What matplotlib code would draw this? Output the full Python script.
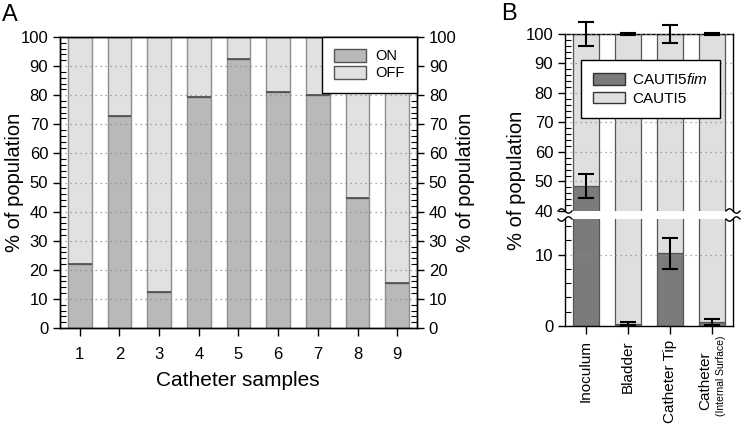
import numpy as np
import matplotlib
matplotlib.use('Agg')  # sin pantalla
import matplotlib.pyplot as plt
from matplotlib.patches import Patch
from matplotlib.ticker import MultipleLocator

plt.rcParams['font.family'] = ['Liberation Sans', 'DejaVu Sans']
plt.rcParams['mathtext.fontset'] = 'custom'
plt.rcParams['mathtext.rm'] = 'Liberation Sans'
plt.rcParams['mathtext.it'] = 'Liberation Sans:italic'

# --- datos panel A ---
muestras = ['1', '2', '3', '4', '5', '6', '7', '8', '9']
on_pct = [22.0, 72.7, 12.2, 79.5, 92.5, 81.0, 80.2, 44.8, 15.3]
off_pct = [100 - v for v in on_pct]

# --- datos panel B ---
sitios = ['Inoculum', 'Bladder', 'Catheter Tip', 'Catheter']
fim_pct = [48.5, 0.3, 10.2, 0.6]
fim_err = [4.0, 0.2, 2.2, 0.4]
cauti_pct = [100 - v for v in fim_pct]
cauti_err = [4.0, 0.3, 3.0, 0.5]

C_ON = '#b9b9b9'
C_OFF = '#e1e1e1'
C_FIM = '#7b7b7b'
C_CAUTI = '#dfdfdf'
GRID = dict(linestyle=(0, (1, 3)), color='#8c8c8c', linewidth=0.9)

W, H = 742, 426
fig = plt.figure(figsize=(W / 100, H / 100), dpi=100)


def caja(x0, y0, x1, y1):
    # pixeles (origen arriba-izq) -> fraccion de figura
    return [x0 / W, 1 - y1 / H, (x1 - x0) / W, (y1 - y0) / H]


def estilo_y(ax):
    ax.yaxis.set_minor_locator(MultipleLocator(2))
    ax.tick_params(axis='y', which='major', direction='out', length=5, width=1, labelsize=12)
    ax.tick_params(axis='y', which='minor', direction='in', length=4, width=0.8)
    for s in ax.spines.values():
        s.set_linewidth(1)


# ================= Panel A =================
ax = fig.add_axes(caja(60, 37, 417, 328))
x = np.arange(1, len(muestras) + 1)
ax.bar(x, on_pct, width=0.6, color=C_ON, edgecolor='#8e8e8e', linewidth=1)
ax.bar(x, off_pct, width=0.6, bottom=on_pct, color=C_OFF, edgecolor='#8e8e8e', linewidth=1)
ax.hlines(on_pct, x - 0.3, x + 0.3, color='#4a4a4a', linewidth=1.2, zorder=3)
ax.set_xlim(0.5, 9.5)
ax.set_ylim(0, 100)
ax.set_yticks(range(0, 101, 10))
ax.set_xticks(x)
ax.set_xticklabels(muestras)
ax.tick_params(axis='x', direction='out', length=6, width=1, labelsize=12, pad=8)
estilo_y(ax)
ax.yaxis.grid(True, **GRID)
ax.set_axisbelow(False)

ax2 = ax.twinx()
ax2.set_ylim(0, 100)
ax2.set_yticks(range(0, 101, 10))
estilo_y(ax2)

leg = ax2.legend(handles=[Patch(facecolor=C_ON, edgecolor='#555555', label='ON'),
                          Patch(facecolor=C_OFF, edgecolor='#555555', label='OFF')],
                 loc='upper right', bbox_to_anchor=(1, 1), borderaxespad=0,
                 fontsize=10.5, handlelength=2.2, handleheight=0.9,
                 fancybox=False, framealpha=1, edgecolor='black',
                 borderpad=0.85, labelspacing=0.2, handletextpad=0.6)
leg.get_frame().set_linewidth(1)

fig.text(15 / W, 1 - 182 / H, '% of population', rotation=90, ha='center', va='center', fontsize=14.5)
fig.text(466 / W, 1 - 182 / H, '% of population', rotation=90, ha='center', va='center', fontsize=14.5)
fig.text(238 / W, 1 - 380 / H, 'Catheter samples', ha='center', va='center', fontsize=15)
fig.text(2 / W, 1 - 4 / H, 'A', ha='left', va='top', fontsize=17)

# ================= Panel B =================
axu = fig.add_axes(caja(565, 34, 733, 211))
axl = fig.add_axes(caja(565, 219, 733, 326))
xb = np.arange(len(sitios))

for a in (axu, axl):
    a.bar(xb, fim_pct, width=0.6, color=C_FIM, edgecolor='#555555', linewidth=0.9)
    a.bar(xb, cauti_pct, width=0.6, bottom=fim_pct, color=C_CAUTI, edgecolor='#555555', linewidth=0.9)
    a.set_xlim(-0.5, 3.5)
    estilo_y(a)
    a.yaxis.grid(True, **GRID)
    a.set_axisbelow(False)
    a.errorbar(xb, fim_pct, yerr=fim_err, fmt='none', ecolor='black',
               elinewidth=1.5, capsize=5.5, capthick=1.5, zorder=4)

axu.errorbar(xb, [100] * len(xb), yerr=cauti_err, fmt='none', ecolor='black',
             elinewidth=1.5, capsize=5.5, capthick=1.5, clip_on=False, zorder=4)

axu.set_ylim(40, 100)
axu.set_yticks(range(40, 101, 10))
axu.spines['bottom'].set_visible(False)
axu.tick_params(axis='x', bottom=False, labelbottom=False)

axl.set_ylim(0, 15)
axl.set_yticks([0, 10])
axl.spines['top'].set_visible(False)
axl.set_xticks(xb)
axl.set_xticklabels(sitios[:3] + [''], rotation=90, fontsize=11)
axl.tick_params(axis='x', direction='out', length=6, width=1, pad=4)

# etiqueta de dos lineas para el ultimo sitio
axl.annotate(sitios[3], xy=(xb[3], 0), xycoords=('data', 'axes fraction'),
             xytext=(-7, -55), textcoords='offset pixels', rotation=90,
             ha='center', va='center', fontsize=11)
axl.annotate('(Internal Surface)', xy=(xb[3], 0), xycoords=('data', 'axes fraction'),
             xytext=(9, -9), textcoords='offset pixels', rotation=90,
             ha='center', va='top', fontsize=7.5)

legb = axu.legend(handles=[Patch(facecolor=C_FIM, edgecolor='#333333', label=r'CAUTI5$\mathit{fim}$'),
                           Patch(facecolor=C_CAUTI, edgecolor='#333333', label='CAUTI5')],
                  loc='center', bbox_to_anchor=(0.51, 0.69),
                  fontsize=11, handlelength=2.1, handleheight=0.8,
                  fancybox=False, framealpha=1, edgecolor='black',
                  borderpad=0.8, labelspacing=0.3, handletextpad=0.45,
                  borderaxespad=0)
legb.get_frame().set_linewidth(1)

# marcas de corte del eje
t = np.linspace(-1, 1, 30)
for xs in (565, 733):
    for ys, sg in ((211, 1), (219, -1)):
        xx = xs + 7 * t
        yy = ys + sg * 2.2 * np.sin(np.pi * t)
        fig.add_artist(plt.Line2D(xx / W, 1 - yy / H, color='black', linewidth=1))

fig.text(517 / W, 1 - 180 / H, '% of population', rotation=90, ha='center', va='center', fontsize=14.5)
fig.text(501 / W, 1 - 3 / H, 'B', ha='left', va='top', fontsize=17)

fig.savefig('out.png', dpi=100)
